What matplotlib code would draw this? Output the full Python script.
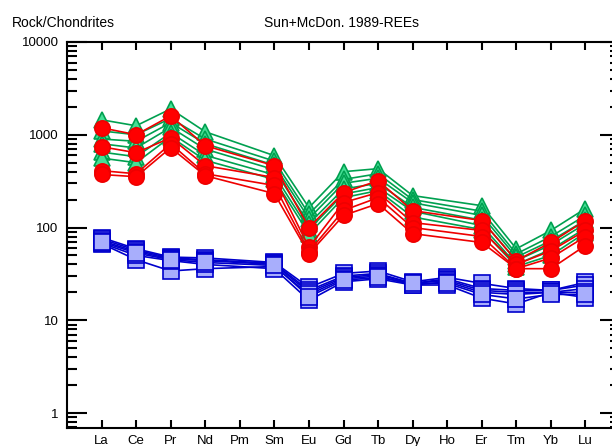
import matplotlib
matplotlib.use('Agg')
import matplotlib.pyplot as plt
import numpy as np

plt.rcParams['font.family'] = ['Liberation Sans', 'DejaVu Sans']

elements = ['La', 'Ce', 'Pr', 'Nd', 'Pm', 'Sm', 'Eu', 'Gd', 'Tb', 'Dy', 'Ho', 'Er', 'Tm', 'Yb', 'Lu']
nan = np.nan

# green triangles (no Pm, no Ho)
green = [
    [1450, 1250, 1900, 1077, nan, 595, 164, 400, 431, 221, nan, 172, 59, 93, 160],
    [1100, 1000, 1500, 900, nan, 520, 140, 330, 380, 200, nan, 150, 52, 80, 135],
    [900, 850, 1350, 800, nan, 470, 125, 300, 340, 185, nan, 135, 48, 72, 120],
    [800, 720, 1200, 700, nan, 420, 110, 260, 300, 165, nan, 120, 44, 65, 110],
    [650, 580, 1050, 600, nan, 370, 95, 230, 270, 150, nan, 105, 40, 58, 98],
    [560, 500, 950, 530, nan, 330, 85, 210, 250, 130, nan, 95, 38, 50, 88],
]

# red circles
red = [
    [1190, 1000, 1600, 762, nan, 464, 100, 238, 320, 152, nan, 119, 44, 69, 119],
    [743, 640, 929, 464, nan, 346, 61, 186, 238, 113, nan, 93, 40, 56, 93],
    [410, 380, 800, 380, nan, 284, 55, 153, 210, 100, nan, 80, 36, 47, 80],
    [373, 353, 725, 362, nan, 232, 52, 135, 181, 86, nan, 69, 36, 36, 64],
]

# blue squares
blue = [
    [78, 59, 48, 47, nan, 42, 22.6, 32, 34, 26, 29, 25, 22, 21, 25.6],
    [75, 57, 47, 45, nan, 41, 21, 30, 32, 25, 28, 22, 21, 21, 24],
    [72, 55, 46, 44, nan, 40, 20, 29, 31, 25, 27, 21, 20, 20, 22],
    [67, 45, 34, 36, nan, 38, 19, 28, 30, 24, 26, 20, 19, 20, 20],
    [68, 50, 44, 40, nan, 36, 16.4, 26, 28, 24, 24, 17.3, 15, 20, 17.6],
    [70, 53, 45, 42, nan, 39, 18, 27, 29, 25, 25, 19, 17, 19, 19],
]

x = np.arange(1, len(elements) + 1)

fig = plt.figure(figsize=(6.12, 4.46), dpi=100)
ax = fig.add_axes([67/612, 18/446, 553/612, 386/446])

def draw(series, col, mk, face, edge):
    for s in series:
        s = np.array(s, dtype=float)
        ok = np.isfinite(s)
        ax.plot(x[ok], s[ok], '-', color=col, lw=1.2, marker=mk, markersize=11,
                markerfacecolor=face, markeredgecolor=edge, markeredgewidth=1.2)

draw(green, '#00a050', '^', '#45e096', '#00a050')
draw(red, '#ee0000', 'o', '#ff0000', '#ee0000')
draw(blue, '#0000cc', 's', '#a8aefc', '#0000cc')

ax.set_yscale('log')
ax.set_xlim(0, 16)
ax.set_ylim(0.69, 10000)

ax.set_xticks(x)
ax.set_xticklabels(elements)
ax.set_yticks([1, 10, 100, 1000, 10000])
ax.set_yticklabels(['1', '10', '100', '1000', '10000'])
ax.yaxis.set_minor_locator(matplotlib.ticker.LogLocator(base=10, subs=np.arange(2, 10)))
ax.yaxis.set_minor_formatter(matplotlib.ticker.NullFormatter())

ax.tick_params(axis='x', which='both', direction='in', top=True, length=6, width=1.5,
               labelsize=9.5, pad=5)
ax.tick_params(axis='y', which='major', direction='in', right=True, length=14.5, width=1.5,
               labelsize=9.5, pad=6)
ax.tick_params(axis='y', which='minor', direction='in', right=True, length=7.5, width=1.5)
for sp in ax.spines.values():
    sp.set_linewidth(1.5)

fig.text(12/612, 1 - 23/446, 'Rock/Chondrites', fontsize=10, va='center', ha='left')
fig.text(341/612, 1 - 23/446, 'Sun+McDon. 1989-REEs', fontsize=10, va='center', ha='center')

fig.savefig('out.png', dpi=100)
